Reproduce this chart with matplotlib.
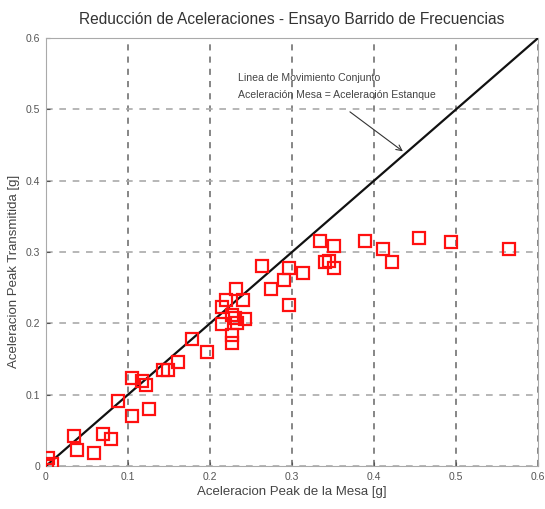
import matplotlib
matplotlib.use('Agg')
import matplotlib.pyplot as plt

plt.rcParams['font.family'] = ['Liberation Sans', 'DejaVu Sans']

# aceleracion peak de la mesa [g]
mesa = [0.001, 0.002, 0.007, 0.034, 0.038, 0.059, 0.070, 0.079, 0.088, 0.105,
        0.105, 0.117, 0.122, 0.126, 0.143, 0.149, 0.161, 0.178, 0.196, 0.215,
        0.220, 0.232, 0.240, 0.227, 0.215, 0.227, 0.227, 0.233, 0.243, 0.230,
        0.263, 0.274, 0.290, 0.296, 0.296, 0.313, 0.334, 0.351, 0.340, 0.345,
        0.351, 0.389, 0.411, 0.422, 0.455, 0.494, 0.565]
# aceleracion peak transmitida [g]
transmitida = [0.000, 0.011, 0.003, 0.042, 0.022, 0.018, 0.045, 0.038, 0.091, 0.070,
               0.123, 0.119, 0.114, 0.080, 0.135, 0.135, 0.146, 0.178, 0.160, 0.223,
               0.233, 0.248, 0.233, 0.212, 0.199, 0.184, 0.172, 0.200, 0.206, 0.208,
               0.281, 0.248, 0.261, 0.278, 0.226, 0.271, 0.316, 0.309, 0.286, 0.288,
               0.278, 0.316, 0.304, 0.286, 0.320, 0.314, 0.304]

linea = [0, 0.6]
ticks = [0, 0.1, 0.2, 0.3, 0.4, 0.5, 0.6]
tick_labels = ['0', '0.1', '0.2', '0.3', '0.4', '0.5', '0.6']

fig = plt.figure(figsize=(5.45, 5.09), dpi=100)
ax = fig.add_axes([0.0844, 0.0845, 0.9026, 0.8405])

ax.plot(linea, linea, color='#111111', lw=1.6, zorder=3)
ax.plot(mesa, transmitida, 's', mfc='none', mec='#ff1010', mew=1.6, ms=8, zorder=4)

ax.set_xlim(0, 0.6)
ax.set_ylim(0, 0.6)
ax.set_xticks(ticks)
ax.set_yticks(ticks)
ax.set_xticklabels(tick_labels)
ax.set_yticklabels(tick_labels)
ax.tick_params(direction='in', length=3, labelsize=7.5, colors='#555555', pad=4)

ax.xaxis.grid(True, ls=(0, (4, 4)), color='#666666', lw=1.1)
ax.yaxis.grid(True, ls=(0, (4, 4)), color='#aaaaaa', lw=1.2)
for s in ax.spines.values():
    s.set_color('#aaaaaa')

ax.set_title('Reducción de Aceleraciones - Ensayo Barrido de Frecuencias',
             fontsize=11.2, color='#333333', pad=10)
ax.set_xlabel('Aceleracion Peak de la Mesa [g]', fontsize=9.5, color='#444444', labelpad=3)
ax.set_ylabel('Aceleracion Peak Transmitida [g]', fontsize=9.5, color='#444444')
ax.yaxis.set_label_coords(-0.052, 0.455)

ax.text(0.234, 0.544, 'Linea de Movimiento Conjunto', fontsize=7.6, color='#444444', va='center')
ax.text(0.234, 0.520, 'Aceleración Mesa = Aceleración Estanque', fontsize=7.6, color='#444444', va='center')
ax.annotate('', xy=(0.438, 0.439), xytext=(0.368, 0.499),
            arrowprops=dict(arrowstyle='->', color='#333333', lw=0.8))

fig.savefig('out.png', dpi=100)
